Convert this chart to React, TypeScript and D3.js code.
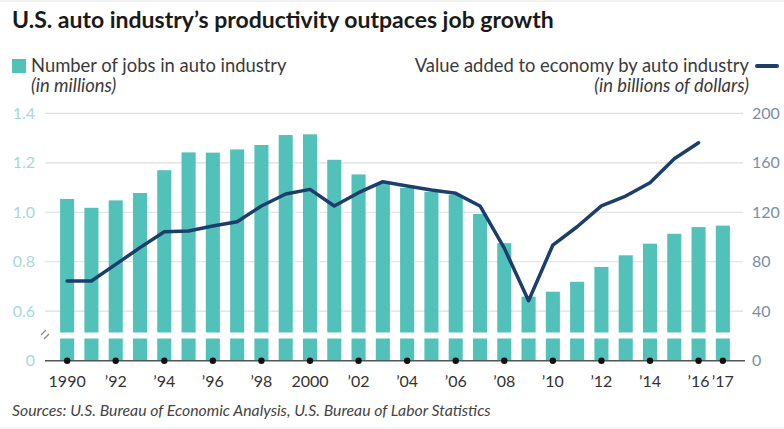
import React from "react";
import * as d3 from "d3";

const years = d3.range(1990, 2018);
const jobs = [1.054, 1.018, 1.048, 1.078, 1.17, 1.242, 1.241, 1.254, 1.272, 1.312, 1.315, 1.212, 1.153, 1.118, 1.098, 1.083, 1.07, 0.993, 0.875, 0.659, 0.679, 0.719, 0.779, 0.826, 0.873, 0.913, 0.94, 0.946];
const valueYears = d3.range(1990, 2017);
const valueAdded = [64.4, 64.4, 77.9, 91.4, 104.3, 104.8, 108.9, 112.4, 125.1, 134.8, 138.5, 125.1, 135.8, 144.7, 141.2, 138.0, 135.3, 125.1, 91, 48.5, 93.5, 108.3, 125.1, 133.1, 143.9, 163.3, 176.2];
const leftTicks = [0.6, 0.8, 1.0, 1.2, 1.4];
const rightTicks = [0, 40, 80, 120, 160, 200];
const xLabelYears = [1990, 1992, 1994, 1996, 1998, 2000, 2002, 2004, 2006, 2008, 2010, 2012, 2014, 2016, 2017];

const W = 784;
const H = 429;
const FONT = "Lato, 'Open Sans', sans-serif";
const TEAL = "#52c1b9";
const NAVY = "#1c3e6c";

function xLabel(y: number) {
  if (y === 1990 || y === 2000) return String(y);
  return "\u2019" + String(y).slice(2);
}

export default function App() {
  const x = d3.scaleBand<number>().domain(years).range([55, 735]).paddingInner(0.42).paddingOuter(0.21);
  const baseY = 360.7;
  const topY = 113.3;
  const yL = d3.scaleLinear().domain([0.4, 1.4]).range([baseY, topY]);
  const yR = d3.scaleLinear().domain([0, 200]).range([baseY, topY]);
  const cx = (yr: number) => (x(yr) as number) + x.bandwidth() / 2;
  const line = d3
    .line<number>()
    .x((_, i) => cx(valueYears[i]))
    .y((v) => yR(v));
  const breakTop = 332.5;
  const breakBot = 338.5;

  return (
    <svg width={W} height={H} style={{ position: "absolute", left: 0, top: 0, background: "#fff" }}>
      <line x1={0} x2={W} y1={1} y2={1} stroke="#e6e6e6" strokeWidth={1} />
      <text x={12} y={28} fontFamily={FONT} fontWeight={700} fontSize={23} fill="#1a1a1a">
        U.S. auto industry’s productivity outpaces job growth
      </text>
      {/* legend left */}
      <rect x={12} y={59} width={14} height={14} fill={TEAL} />
      <text x={31} y={72} fontFamily={FONT} fontSize={18.4} fill="#3a3a3a">Number of jobs in auto industry</text>
      <text x={31} y={92} fontFamily={FONT} fontSize={18.4} fontStyle="italic" fill="#3a3a3a">(in millions)</text>
      {/* legend right */}
      <text x={749} y={72} textAnchor="end" fontFamily={FONT} fontSize={18.4} fill="#3a3a3a">Value added to economy by auto industry</text>
      <line x1={757} x2={777} y1={66} y2={66} stroke={NAVY} strokeWidth={4} strokeLinecap="round" />
      <text x={749} y={92} textAnchor="end" fontFamily={FONT} fontSize={18.4} fontStyle="italic" fill="#3a3a3a">(in billions of dollars)</text>

      {/* gridlines */}
      {leftTicks.map((t) => (
        <line key={t} x1={45} x2={743} y1={yL(t)} y2={yL(t)} stroke="#dedede" strokeWidth={1.2} />
      ))}
      {/* bars */}
      {years.map((yr, i) => (
        <rect key={yr} x={x(yr)} y={yL(jobs[i])} width={x.bandwidth()} height={baseY - yL(jobs[i])} fill={TEAL} />
      ))}
      {/* break band */}
      <rect x={45} y={breakTop} width={698} height={breakBot - breakTop} fill="#fff" />
      <line x1={41} x2={46} y1={335} y2={330} stroke="#888" strokeWidth={1.2} />
      <line x1={44} x2={49} y1={339} y2={334} stroke="#888" strokeWidth={1.2} />

      {/* left labels */}
      {leftTicks.map((t) => (
        <text key={t} x={35} y={yL(t) + 5.5} textAnchor="end" fontFamily={FONT} fontSize={16} fill="#a5d9d5">
          {t.toFixed(1)}
        </text>
      ))}
      <text x={35} y={baseY + 5.5} textAnchor="end" fontFamily={FONT} fontSize={16} fill="#a5d9d5">0</text>
      {/* right labels */}
      {rightTicks.map((t) => (
        <text key={t} x={752} y={yR(t) + 5.5} fontFamily={FONT} fontSize={16} fill="#7c8ea6">
          {t}
        </text>
      ))}

      {/* line */}
      <path d={line(valueAdded) || ""} fill="none" stroke={NAVY} strokeWidth={3.5} strokeLinejoin="round" strokeLinecap="round" />

      {/* baseline */}
      <line x1={45} x2={745} y1={baseY} y2={baseY} stroke="#555" strokeWidth={1.5} />
      {xLabelYears.map((yr) => (
        <circle key={yr} cx={cx(yr)} cy={baseY} r={3.2} fill="#111" />
      ))}
      {xLabelYears.map((yr) => (
        <text key={yr} x={cx(yr)} y={387} textAnchor="middle" fontFamily={FONT} fontSize={16} fill="#333">
          {xLabel(yr)}
        </text>
      ))}

      <text x={12} y={416} fontFamily={FONT} fontSize={15.8} fontStyle="italic" fill="#444">
        Sources: U.S. Bureau of Economic Analysis, U.S. Bureau of Labor Statistics
      </text>
      <line x1={0} x2={W} y1={428} y2={428} stroke="#eaeaea" strokeWidth={1} />
    </svg>
  );
}
